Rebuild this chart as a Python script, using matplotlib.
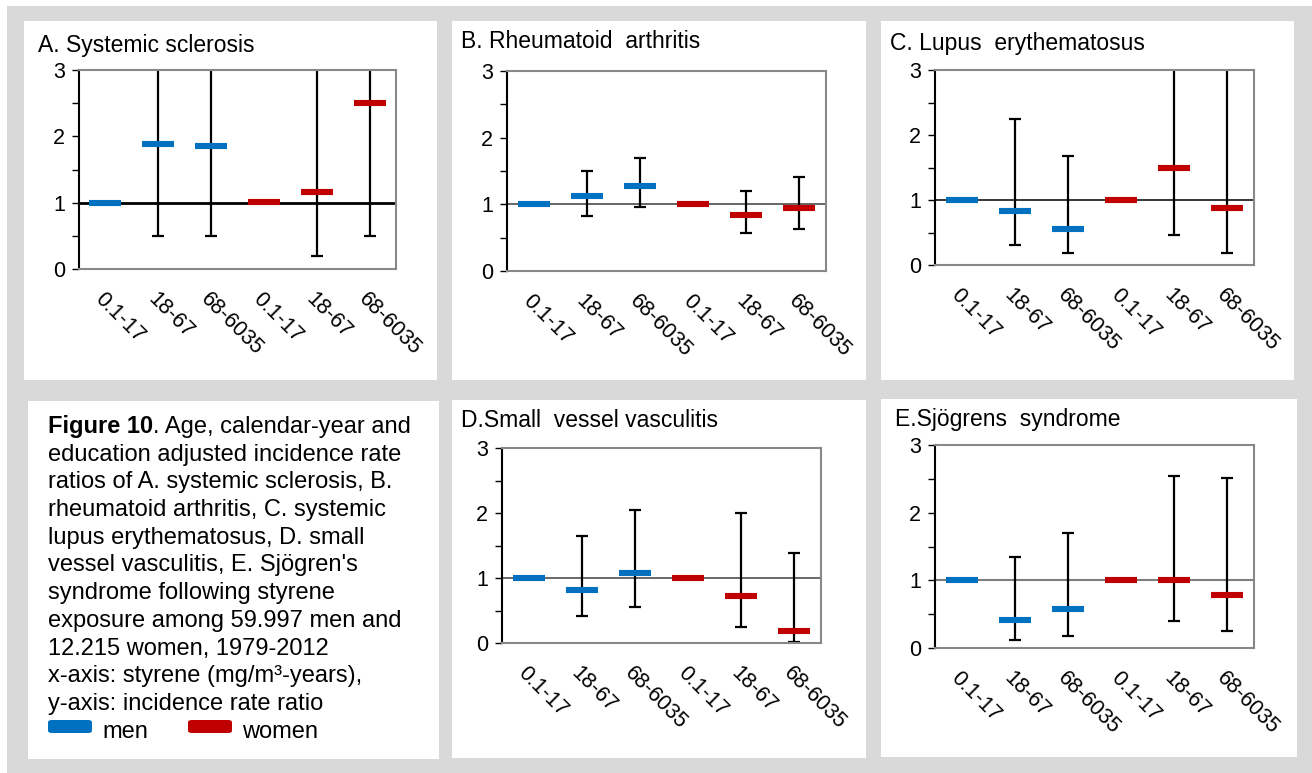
import matplotlib
matplotlib.use("Agg")
import matplotlib.pyplot as plt
from matplotlib.patches import Rectangle, FancyBboxPatch
import numpy as np

plt.rcParams['font.family'] = ['Liberation Sans', 'DejaVu Sans']

# data
categories = ['0.1-17', '18-67', '68-6035', '0.1-17', '18-67', '68-6035']
sex = ['men', 'men', 'men', 'women', 'women', 'women']

titles = ['A. Systemic sclerosis', 'B. Rheumatoid  arthritis',
          'C. Lupus  erythematosus', 'D.Small  vessel vasculitis',
          'E.Sjögrens  syndrome']

# rate ratios, lower and upper confidence limits (upper > 3 is off the chart)
irr_a = [1.0, 1.89, 1.86, 1.01, 1.16, 2.50]
lo_a = [1.0, 0.50, 0.49, 1.01, 0.19, 0.49]
hi_a = [1.0, 6.0, 6.0, 1.01, 6.0, 8.0]

irr_b = [1.0, 1.12, 1.28, 1.0, 0.84, 0.95]
lo_b = [1.0, 0.82, 0.96, 1.0, 0.57, 0.63]
hi_b = [1.0, 1.50, 1.69, 1.0, 1.20, 1.41]

irr_c = [1.0, 0.83, 0.55, 1.0, 1.50, 0.88]
lo_c = [1.0, 0.31, 0.18, 1.0, 0.46, 0.18]
hi_c = [1.0, 2.25, 1.67, 1.0, 5.0, 5.0]

irr_d = [1.0, 0.82, 1.07, 1.0, 0.72, 0.18]
lo_d = [1.0, 0.41, 0.55, 1.0, 0.25, 0.02]
hi_d = [1.0, 1.64, 2.04, 1.0, 2.00, 1.38]

irr_e = [1.0, 0.41, 0.57, 1.0, 1.0, 0.78]
lo_e = [1.0, 0.12, 0.18, 1.0, 0.40, 0.25]
hi_e = [1.0, 1.34, 1.70, 1.0, 2.54, 2.51]

caption_lines = [
    'education adjusted incidence rate',
    'ratios of A. systemic sclerosis, B.',
    'rheumatoid arthritis, C. systemic',
    'lupus erythematosus, D. small',
    "vessel vasculitis, E. Sjögren's",
    'syndrome following styrene',
    'exposure among 59.997 men and',
    '12.215 women, 1979-2012',
    'x-axis: styrene (mg/m³-years),',
    'y-axis: incidence rate ratio',
]

W, H = 1312, 773
colors = {'men': '#0070C0', 'women': '#C00000'}
fig = plt.figure(figsize=(W / 100, H / 100), dpi=100)
fig.patch.set_facecolor('white')


def fx(px):
    return px / W


def fy(py):
    return 1 - py / H


def box(x0, y0, x1, y1, color):
    fig.patches.append(Rectangle((fx(x0), fy(y1)), fx(x1) - fx(x0), fy(y0) - fy(y1),
                                 transform=fig.transFigure, facecolor=color,
                                 edgecolor='none', zorder=-10))


box(7, 6, W, H, '#d9d9d9')
panel_boxes = [(24, 21, 437, 380), (452, 21, 866, 380), (881, 21, 1294, 380),
               (28, 401, 439, 759), (452, 400, 866, 758), (881, 399, 1297, 757)]
for b in panel_boxes:
    box(*b, 'white')

# axes rectangles in pixels: left, right, top, bottom
axes_px = [(79, 396, 70, 269), (507, 826, 71, 271), (935, 1254, 70, 265),
           (502, 821, 448, 643), (935, 1254, 445, 648)]
title_pos = [(38, 52), (461, 48), (890, 50), (461, 427), (895, 426)]
ref_style = [('black', 2.0), ('#595959', 1.3), ('black', 1.1),
             ('#404040', 1.1), ('#7f7f7f', 1.5)]
data = [(irr_a, lo_a, hi_a), (irr_b, lo_b, hi_b), (irr_c, lo_c, hi_c),
        (irr_d, lo_d, hi_d), (irr_e, lo_e, hi_e)]

for i in range(5):
    l, r, t, b = axes_px[i]
    ax = fig.add_axes([fx(l), fy(b), fx(r) - fx(l), fy(t) - fy(b)])
    irr, lo, hi = (np.array(v) for v in data[i])
    x = np.arange(len(categories))
    ax.axhline(1, color=ref_style[i][0], lw=ref_style[i][1], zorder=1)
    ax.errorbar(x, irr, yerr=[irr - lo, hi - irr], fmt='none', ecolor='black',
                elinewidth=1.6, capsize=4, capthick=1.6, zorder=2)
    for xi, yi, s in zip(x, irr, sex):
        ax.plot(xi, yi, marker='_', markersize=23, markeredgewidth=4.4,
                color=colors[s], zorder=3)
    ax.set_xlim(-0.5, 5.5)
    ax.set_ylim(0, 3)
    ax.set_yticks([0, 1, 2, 3])
    ax.set_yticks([0.5, 1.5, 2.5], minor=True)
    ax.tick_params(axis='y', which='both', length=5, width=1, color='black',
                   labelsize=15.5, pad=5)
    ax.set_xticks(x)
    ax.set_xticklabels(categories, rotation=-45, ha='left', va='top',
                       rotation_mode='anchor', fontsize=15.5)
    ax.tick_params(axis='x', length=0, pad=14)
    for s in ['top', 'right', 'bottom']:
        ax.spines[s].set_color('#888888')
        ax.spines[s].set_linewidth(1.5)
    ax.spines['left'].set_color('black')
    ax.spines['left'].set_linewidth(1.5)
    fig.text(fx(title_pos[i][0]), fy(title_pos[i][1]), titles[i],
             fontsize=16.5, va='baseline', ha='left')

# caption panel
bold = fig.text(fx(48), fy(433), 'Figure 10', fontsize=17, fontweight='bold',
                va='baseline', ha='left')
fig.texts.append(matplotlib.text.Annotation(
    '. Age, calendar-year and', xy=(1, 0), xycoords=bold,
    fontsize=17, va='bottom', ha='left'))
fig.texts[-1].set_figure(fig)
for k, line in enumerate(caption_lines):
    fig.text(fx(48), fy(433 + 27.7 * (k + 1)), line, fontsize=17,
             va='baseline', ha='left')

leg_y = 738
for name, x0, tx in [('men', 48, 102), ('women', 188, 242)]:
    fig.patches.append(FancyBboxPatch((fx(x0), fy(733)), fx(44), 13 / H,
                                      boxstyle='round,pad=0,rounding_size=0.003',
                                      transform=fig.transFigure,
                                      facecolor=colors[name], edgecolor='none'))
    fig.text(fx(tx), fy(leg_y), name, fontsize=17, va='baseline', ha='left')

fig.savefig('out.png', dpi=100)
